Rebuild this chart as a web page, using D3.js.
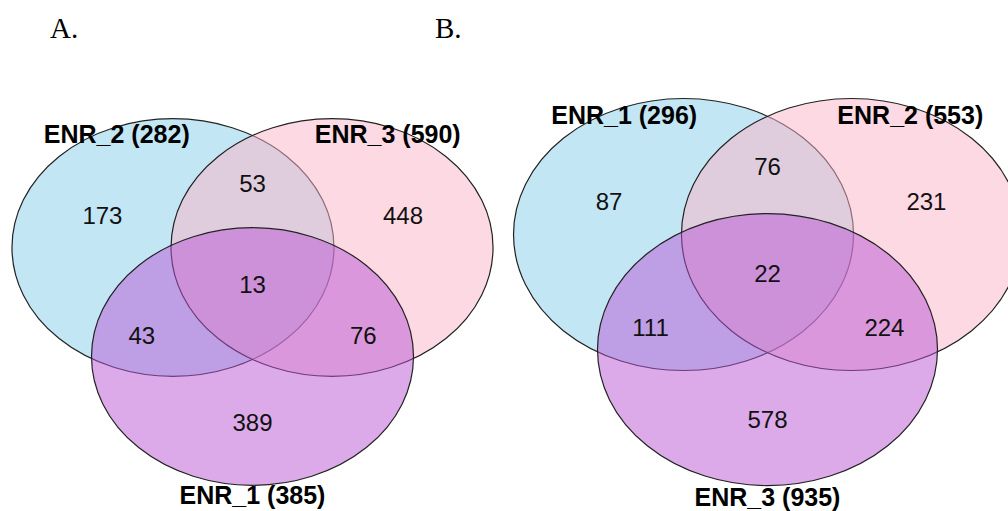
<!DOCTYPE html>
<html>
<head>
<meta charset="utf-8">
<script src="https://cdn.jsdelivr.net/npm/d3@7"></script>
<style>
  html, body { margin: 0; padding: 0; background: #fff; }
  svg { display: block; }
</style>
</head>
<body>
<svg id="chart" width="1008" height="511"></svg>
<script>
// ---- data ----
const panelTags = ["A.", "B."];

// panel A
const setNamesA = ["ENR_2", "ENR_3", "ENR_1"];
const setSizesA = [282, 590, 385];
// order: only1, only2, only3, 1&2, 1&3, 2&3, 1&2&3
const regionCountsA = [173, 448, 389, 53, 43, 76, 13];

// panel B
const setNamesB = ["ENR_1", "ENR_2", "ENR_3"];
const setSizesB = [296, 553, 935];
const regionCountsB = [87, 231, 578, 76, 111, 224, 22];

const setColors = ["#87CEEB", "#FBB4C8", "#BA55D3"];

// ---- layout ----
const svg = d3.select("#chart");

// three-ellipse template in unit coordinates (x radius = 1)
const ellipseTemplate = [
  { x: -0.494, y: 0,     rx: 1, ry: 0.80 },
  { x:  0.494, y: 0,     rx: 1, ry: 0.80 },
  { x:  0,     y: 0.677, rx: 1, ry: 0.80 }
];
const regionTemplate = [
  { x: -0.932, y: -0.196 },
  { x:  0.935, y: -0.196 },
  { x:  0,     y:  1.09  },
  { x:  0,     y: -0.40  },
  { x: -0.688, y:  0.547 },
  { x:  0.688, y:  0.547 },
  { x:  0,     y:  0.232 }
];
const nameTemplate = [
  { x: -0.843, y: -0.652 },
  { x:  0.840, y: -0.652 },
  { x:  0,     y:  1.595 }
];

const panels = [
  { tag: panelTags[0], names: setNamesA, sizes: setSizesA, counts: regionCountsA,
    ox: 252.5, oy: 247.5, unit: 161, tagX: 50 },
  { tag: panelTags[1], names: setNamesB, sizes: setSizesB, counts: regionCountsB,
    ox: 767.5, oy: 234.5, unit: 170, tagX: 435 }
];

panels.forEach(p => {
  const x = d3.scaleLinear().domain([0, 1]).range([p.ox, p.ox + p.unit]);
  const y = d3.scaleLinear().domain([0, 1]).range([p.oy, p.oy + p.unit]);
  const r = d3.scaleLinear().domain([0, 1]).range([0, p.unit]);

  const g = svg.append("g");

  g.selectAll("ellipse")
    .data(ellipseTemplate)
    .join("ellipse")
    .attr("cx", d => x(d.x))
    .attr("cy", d => y(d.y))
    .attr("rx", d => r(d.rx))
    .attr("ry", d => r(d.ry))
    .attr("fill", (d, i) => setColors[i])
    .attr("fill-opacity", 0.5)
    .attr("stroke", "#222")
    .attr("stroke-width", 1.2);

  g.selectAll("text.count")
    .data(p.counts)
    .join("text")
    .attr("class", "count")
    .attr("x", (d, i) => x(regionTemplate[i].x))
    .attr("y", (d, i) => y(regionTemplate[i].y))
    .attr("text-anchor", "middle")
    .attr("dominant-baseline", "central")
    .attr("font-family", "'Liberation Sans', Arial, sans-serif")
    .attr("font-size", 24)
    .attr("fill", "#111")
    .text(d => d);

  g.selectAll("text.setname")
    .data(p.names)
    .join("text")
    .attr("class", "setname")
    .attr("x", (d, i) => x(nameTemplate[i].x))
    .attr("y", (d, i) => y(nameTemplate[i].y))
    .attr("text-anchor", "middle")
    .attr("font-family", "'Liberation Sans', Arial, sans-serif")
    .attr("font-weight", "bold")
    .attr("font-size", 25)
    .attr("fill", "#000")
    .text((d, i) => `${d} (${p.sizes[i]})`);

  svg.append("text")
    .attr("x", p.tagX)
    .attr("y", 38)
    .attr("font-family", "'Liberation Serif', 'Times New Roman', serif")
    .attr("font-size", 29)
    .attr("fill", "#000")
    .text(p.tag);
});
</script>
</body>
</html>
